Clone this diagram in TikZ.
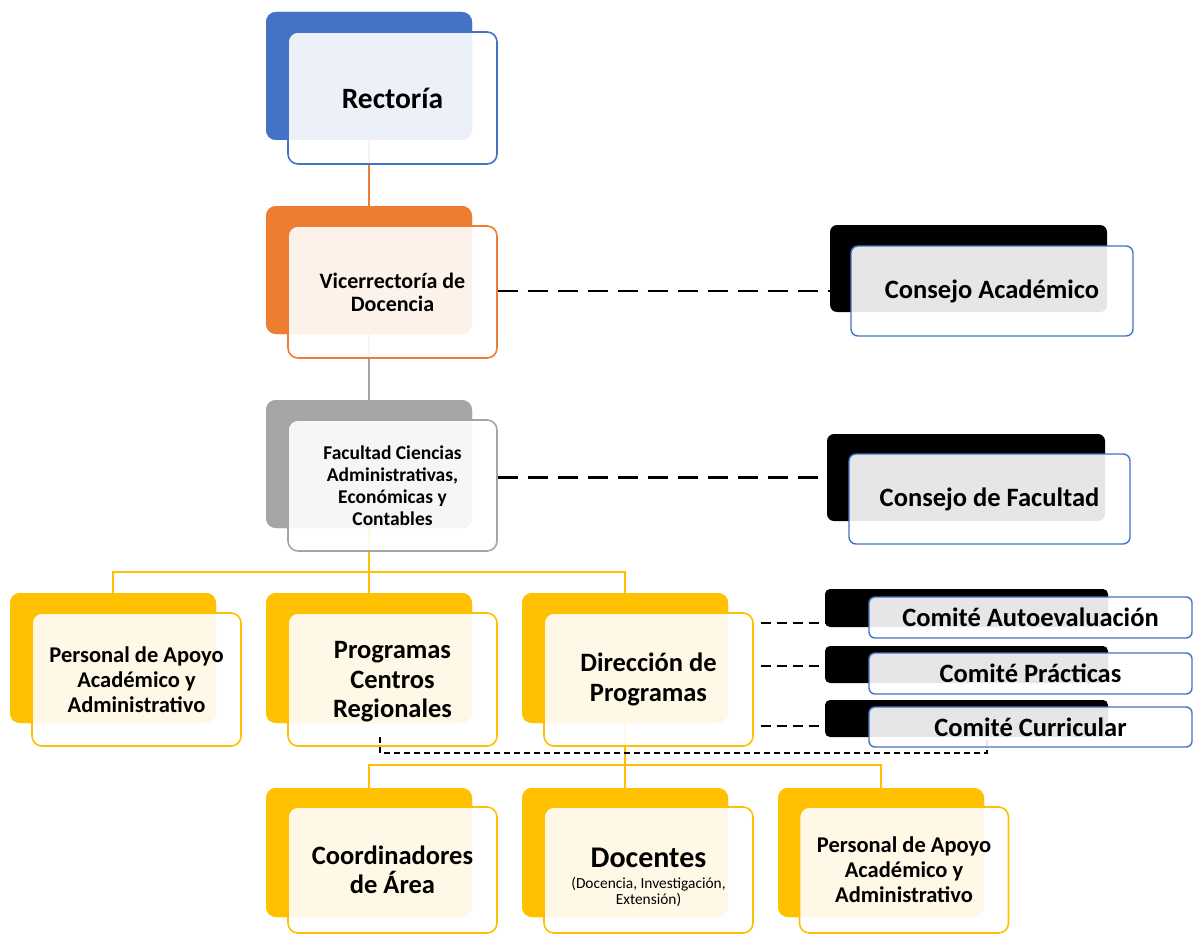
\documentclass[tikz,border=0pt]{standalone}
\usepackage{fontspec}
\setmainfont{Carlito}
\definecolor{cblue}{HTML}{4472C4}
\definecolor{corange}{HTML}{ED7D31}
\definecolor{cgray}{HTML}{A5A5A5}
\definecolor{cyel}{HTML}{FFC000}
\begin{document}
\begin{tikzpicture}[x=1pt,y=-1pt,
  back/.style={rounded corners=10pt, fill=#1, draw=none, inner sep=0pt, minimum width=206pt, minimum height=128pt},
  front/.style={rounded corners=10pt, draw=#1, line width=1.6pt, fill=white, fill opacity=0.9, text opacity=1, align=center, inner sep=0pt, minimum width=209pt, minimum height=131pt},
  cback/.style={rounded corners=7pt, fill=black, draw=none, inner sep=0pt},
  cfront/.style={rounded corners=7pt, draw=cblue, line width=1.4pt, fill=white, fill opacity=0.9, text opacity=1, align=center, inner sep=0pt, font=\fontsize{26.5}{29}\selectfont\bfseries},
  conn/.style={line width=1.6pt, draw=#1},
  dbig/.style={line width=2.8pt, dash pattern=on 20pt off 10pt},
  dmid/.style={line width=2.2pt, dash pattern=on 10pt off 6pt},
  dsmall/.style={line width=1.3pt, dash pattern=on 6pt off 4pt},
  fR/.style={font=\fontsize{29.5}{32}\selectfont\bfseries},
  fV/.style={font=\fontsize{22}{23}\selectfont\bfseries},
  fF/.style={font=\fontsize{19.5}{22}\selectfont\bfseries},
  fP/.style={font=\fontsize{22.5}{25}\selectfont\bfseries},
  fM/.style={font=\fontsize{26.5}{29.5}\selectfont\bfseries},
  fD/.style={font=\fontsize{30}{30}\selectfont\bfseries}
]
\useasboundingbox (0,0) rectangle (1193,936);

% ---------- back boxes ----------
\node[back=cblue]   (rB)  at (369,76) {};
\node[back=corange] (vB)  at (369,270) {};
\node[back=cgray]   (fB)  at (369,464) {};
\node[back=cyel, minimum height=130pt] (paB) at (113,658) {};
\node[back=cyel, minimum height=130pt] (pcB) at (369,658) {};
\node[back=cyel, minimum height=130pt] (diB) at (625,658) {};
\node[back=cyel, minimum height=129pt] (coB) at (369,852.5) {};
\node[back=cyel, minimum height=129pt] (dcB) at (625,852.5) {};
\node[back=cyel, minimum height=129pt] (pbB) at (881,852.5) {};

% ---------- connectors ----------
\draw[conn=corange] (rB.south) -- (vB.north);
\draw[conn=cgray] (vB.south) -- (fB.north);
\draw[conn=cyel] (fB.south) -- (fB.south |- pcB.north);
\draw[conn=cyel] (paB.north) -- ++(0,-21) -| (diB.north);
\draw[conn=cyel] (diB.south) -- (dcB.north);
\draw[conn=cyel] (coB.north) -- ++(0,-23) -| (pbB.north);

% redraw back boxes over connectors
\node[back=cblue]   at (rB) {};
\node[back=corange] at (vB) {};
\node[back=cgray]   at (fB) {};
\node[back=cyel, minimum height=130pt] at (paB) {};
\node[back=cyel, minimum height=130pt] at (pcB) {};
\node[back=cyel, minimum height=130pt] at (diB) {};
\node[back=cyel, minimum height=129pt] at (coB) {};
\node[back=cyel, minimum height=129pt] at (dcB) {};
\node[back=cyel, minimum height=129pt] at (pbB) {};

% ---------- front boxes ----------
\node[front=cblue, minimum height=132pt, fR] (r) at (392.5,98) {Rectoría};
\node[front=corange, minimum height=132pt, fV] (v) at (392.5,292) {Vicerrectoría de\\Docencia};
\node[front=cgray, fF] (f) at (392.5,485.5) {Facultad Ciencias\\Administrativas,\\Económicas y\\Contables};
\node[front=cyel, minimum height=133pt, fP] (pa) at (136.5,679.5) {Personal de Apoyo\\Académico y\\Administrativo};
\node[front=cyel, minimum height=133pt, fM, text depth=0pt] (pc) at (392.5,679.5) {Programas\\Centros\\Regionales};
\node[front=cyel, minimum height=133pt, fM] (di) at (648.5,679.5) {Dirección de\\Programas};
\node[front=cyel, minimum height=126pt, fM] (co) at (392.5,870) {Coordinadores\\de Área};
\node[front=cyel, minimum height=126pt] (dc) at (648.5,870) {};
\node[fD, align=center, inner sep=0pt] (dct) at ([yshift=-7pt]dc.center) {Docentes\\[-9pt]{\fontsize{15.4}{17}\selectfont\mdseries (Docencia, Investigación,}\\[-14pt]{\fontsize{15.4}{17}\selectfont\mdseries Extensión)}};
\node[front=cyel, minimum height=126pt, fP] (pb) at (904,870) {Personal de Apoyo\\Académico y\\Administrativo};

% ---------- consejos ----------
\node[cback, minimum width=277pt, minimum height=87pt] (caB) at (968.5,268.5) {};
\node[cfront, minimum width=282pt, minimum height=90pt] (ca) at (992,291) {Consejo Académico};
\node[cback, minimum width=278pt, minimum height=87pt] (cfB) at (966,477.5) {};
\node[cfront, minimum width=281pt, minimum height=90pt] (cf) at (989.5,499) {Consejo de Facultad};

\draw[dbig] (ca.west -| v.east) -- (ca.west -| caB.west);
\draw[dbig] (cfB.west -| f.east) -- (cfB.west);

% ---------- comités ----------
\coordinate (k1) at (380,737);
\coordinate (k2) at (987,753);
\draw[dsmall] (k1) |- (k2) -- ++(0,-16);

\node[cback, rounded corners=5pt, minimum width=283pt, minimum height=38pt] (aeB) at (966.5,608) {};
\node[cfront, rounded corners=6pt, minimum width=323pt, minimum height=41pt] (ae) at (1030.5,617.5) {Comité Autoevaluación};
\node[cback, rounded corners=5pt, minimum width=283pt, minimum height=37pt] (prB) at (966.5,664.5) {};
\node[cfront, rounded corners=6pt, minimum width=323pt, minimum height=41pt] (pr) at (1030.5,673.5) {Comité Prácticas};
\node[cback, rounded corners=5pt, minimum width=283pt, minimum height=37pt] (cuB) at (966.5,718.5) {};
\node[cfront, rounded corners=6pt, minimum width=323pt, minimum height=40pt] (cu) at (1030.5,727) {Comité Curricular};

\coordinate (d1) at (825,623);
\coordinate (d2) at (825,666);
\coordinate (d3) at (825,726);
\draw[dmid] (d1 -| di.east) ++(7,0) -- (d1);
\draw[dmid] (d2 -| di.east) ++(7,0) -- (d2);
\draw[dmid] (d3 -| di.east) ++(7,0) -- (d3);
\end{tikzpicture}
\end{document}
